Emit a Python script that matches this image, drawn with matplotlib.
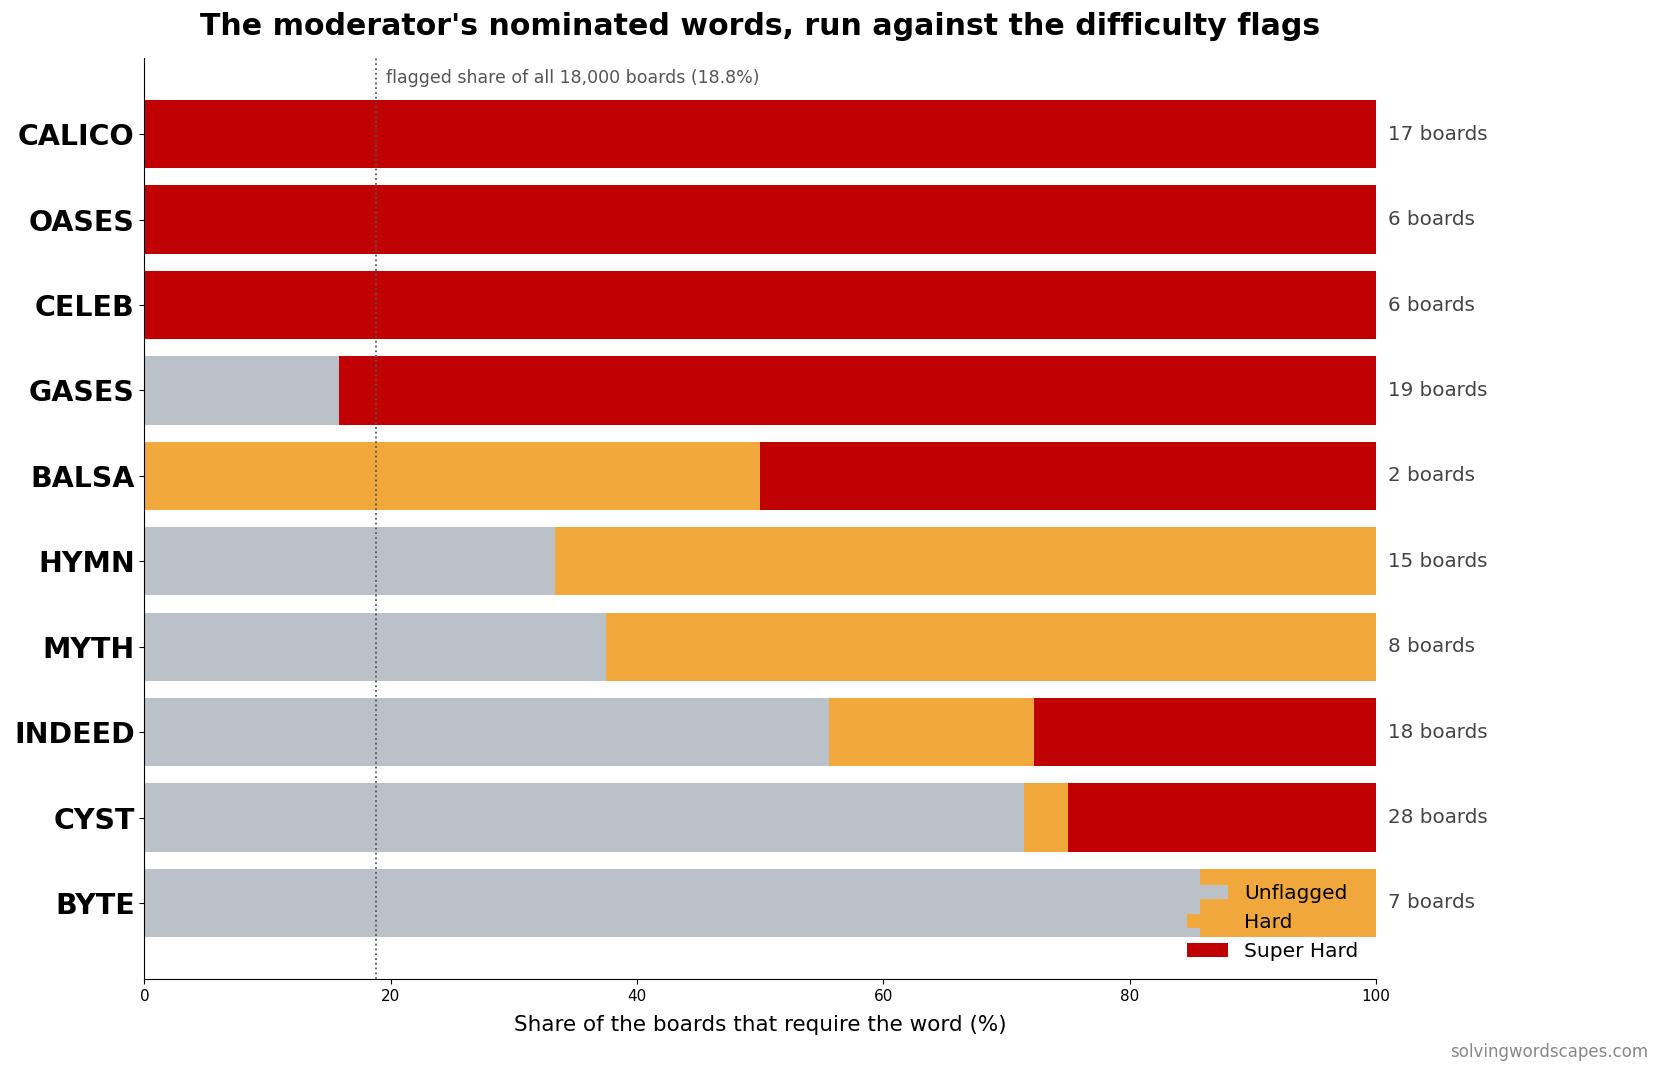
import numpy as np
import matplotlib
matplotlib.use('Agg')
import matplotlib.pyplot as plt

# words from top to bottom, board counts split by flag
words = ["CALICO", "OASES", "CELEB", "GASES", "BALSA", "HYMN", "MYTH", "INDEED", "CYST", "BYTE"]
unflagged = [0, 0, 0, 3, 0, 5, 3, 10, 20, 6]
hard = [0, 0, 0, 0, 1, 10, 5, 3, 1, 1]
super_hard = [17, 6, 6, 16, 1, 0, 0, 5, 7, 0]
overall_flagged_pct = 18.8
total_boards = 18000

u = np.array(unflagged, dtype=float)
h = np.array(hard, dtype=float)
s = np.array(super_hard, dtype=float)
tot = u + h + s
u_pct = u / tot * 100
h_pct = h / tot * 100
s_pct = s / tot * 100

fig = plt.figure(figsize=(16.6, 10.77), dpi=100)
ax = fig.add_axes([0.087, 0.091, 0.742, 0.855])

y = np.arange(len(words))
ax.barh(y, u_pct, height=0.8, color="#bac1c9", label="Unflagged")
ax.barh(y, h_pct, left=u_pct, height=0.8, color="#f0a83c", label="Hard")
ax.barh(y, s_pct, left=u_pct + h_pct, height=0.8, color="#c00000", label="Super Hard")

for yi, n in zip(y, tot):
    ax.text(101, yi, "%d boards" % n, va="center", ha="left", fontsize=14.3, color="#444444")

ax.axvline(overall_flagged_pct, color="#555555", linestyle=":", linewidth=1.3, zorder=5)
ax.text(overall_flagged_pct + 0.8, -0.66,
        "flagged share of all %s boards (%.1f%%)" % (format(total_boards, ","), overall_flagged_pct),
        fontsize=12.5, color="#555555", va="center", ha="left")

ax.set_yticks(y)
ax.set_yticklabels(words, fontsize=20.5, fontweight="bold")
ax.invert_yaxis()
ax.set_xlim(0, 100)
ax.tick_params(axis="x", labelsize=11)
ax.set_xlabel("Share of the boards that require the word (%)", fontsize=15.5, labelpad=8)
ax.spines["top"].set_visible(False)
ax.spines["right"].set_visible(False)

ax.legend(loc="lower right", frameon=False, fontsize=14.5)

ax.set_title("The moderator's nominated words, run against the difficulty flags",
             fontsize=21.6, fontweight="bold", pad=17)
fig.text(0.993, 0.015, "solvingwordscapes.com", ha="right", va="bottom", fontsize=12, color="#888888")

fig.savefig("out.png", dpi=100)
